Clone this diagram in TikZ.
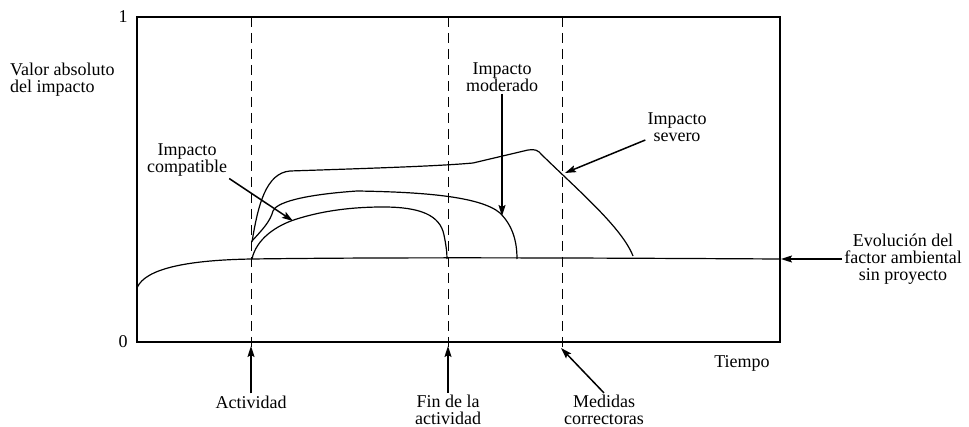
\documentclass[tikz,border=0pt]{standalone}
\usepackage{fontspec}
\setmainfont{Liberation Serif}
\usetikzlibrary{arrows.meta}

\begin{document}
\begin{tikzpicture}[x=1pt, y=-1pt,
        lbl/.style={font=\fontsize{18}{17}\selectfont, align=center, inner sep=2pt},
        guide/.style={line width=1pt, dash pattern=on 10pt off 6pt},
        curve/.style={line width=1.2pt},
        pointer/.style={line width=1.5pt, -{Stealth[length=11pt, width=7pt, inset=2pt]}}]
    \useasboundingbox (0,0) rectangle (969,427);

    % frame of the graph
    \draw[line width=1.2pt] (137,17) rectangle (780,342);
    \node[lbl] (uno) at (123,17) {1};
    \node[lbl] (cero) at (123,342) {0};
    \node[lbl, anchor=west, align=left] (valor) at (8,80) {Valor absoluto\\del impacto};
    \node[lbl] (tiempo) at (742,363) {Tiempo};

    % instants
    \draw[guide] (251,17) -- (251,350);
    \draw[guide] (448,17) -- (448,350);
    \draw[guide] (562,17) -- (562,350);

    % evolution without the project
    \draw[curve] (137,288) .. controls (145,268) and (190,260) .. (252,259)
        .. controls (400,257) and (600,258) .. (780,259);

    % impacto compatible
    \draw[curve] (252,259) .. controls (256,240) and (275,225) .. (300,218)
        .. controls (330,209) and (360,207) .. (383,207)
        .. controls (420,207) and (440,215) .. (444,235)
        .. controls (446,245) and (447,252) .. (447,259);

    % impacto moderado
    \draw[curve] (252,241) .. controls (262,230) and (270,222) .. (273,211)
        .. controls (276,203) and (300,195) .. (357,191)
        .. controls (420,192) and (480,196) .. (500,213)
        .. controls (512,225) and (517,240) .. (517,259);

    % impacto severo
    \draw[curve] (252,242) .. controls (258,205) and (266,173) .. (290,171)
        .. controls (380,168) and (440,166) .. (473,163)
        -- (528,150) .. controls (535,149) and (538,150) .. (542,155)
        .. controls (580,192) and (622,228) .. (633,256);

    % labels and pointers
    \coordinate (cmp-tip) at (293,221);
    \coordinate (mod-tip) at (502,216);
    \coordinate (sev-tip) at (565,173);
    \coordinate (evol-tip) at (781,259);
    \coordinate (act-tip) at (251,346);
    \coordinate (fin-tip) at (448,346);
    \coordinate (med-tip) at (561,348);

    \node[lbl] (compat) at (187,160) {Impacto\\compatible};
    \node[lbl] (moder) at (502,77) {Impacto\\moderado};
    \node[lbl] (severo) at (677,127) {Impacto\\severo};
    \node[lbl] (evol) at (903,259) {Evolución del\\factor ambiental\\sin proyecto};
    \node[lbl] (act) at (251,402) {Actividad};
    \node[lbl] (fin) at (448,410) {Fin de la\\actividad};
    \node[lbl] (medidas) at (604,410) {Medidas\\correctoras};

    \draw[pointer] (compat.south east) -- (cmp-tip);
    \draw[pointer] (moder.south) -- (mod-tip);
    \draw[pointer] (severo) -- (sev-tip);
    \draw[pointer] (evol.west |- evol-tip) -- (evol-tip);
    \draw[pointer] (act.north) -- (act-tip);
    \draw[pointer] (fin.north) -- (fin-tip);
    \draw[pointer] (medidas.north) -- (med-tip);
\end{tikzpicture}
\end{document}
